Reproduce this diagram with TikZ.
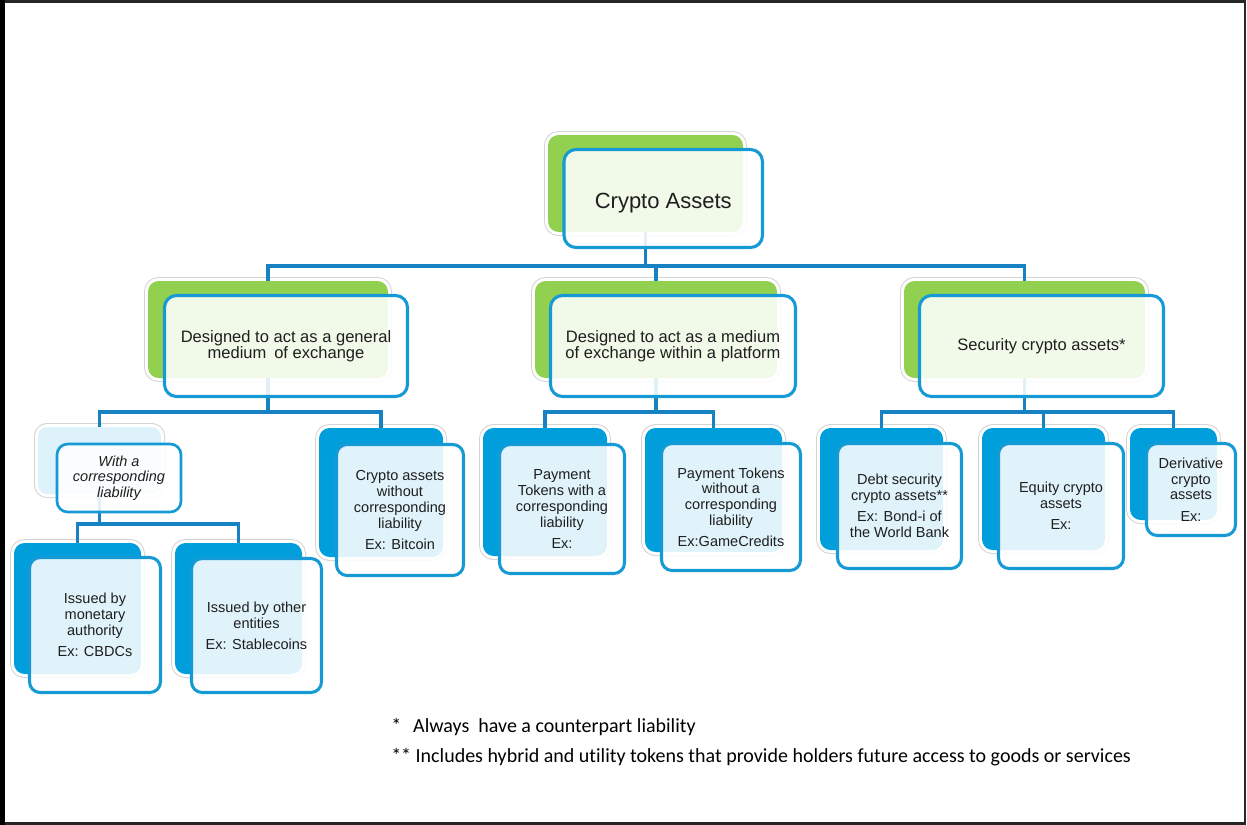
\documentclass[tikz,border=0pt]{standalone}
\usepackage{fontspec}
\setmainfont{Liberation Sans}
\newfontfamily\calib[Ligatures=NoCommon]{Carlito}
\definecolor{greenc}{RGB}{146,208,80}
\definecolor{bluec}{RGB}{0,159,220}
\definecolor{lightbluec}{RGB}{222,242,251}
\definecolor{frontblue}{RGB}{22,154,214}
\definecolor{connblue}{RGB}{22,130,194}
\definecolor{txt}{RGB}{30,30,30}
\newcommand{\mkbox}[6]{%
  \node[#2, minimum width={(#5-#3)*0.75pt}, minimum height={(#6-#4)*0.75pt}] (#1) at ({(#3+#5)/2},{(#4+#6)/2}) {};}
\newcommand{\mkfront}[7]{%
  \node[#2, minimum width={(#5-#3)*0.75pt}, minimum height={(#6-#4)*0.75pt}] (#1) at ({(#3+#5)/2},{(#4+#6)/2}) {#7};}
\begin{document}
\begin{tikzpicture}[x=0.75pt,y=-0.75pt,
  backbase/.style={rectangle, inner sep=0pt, outer sep=0pt,
    preaction={draw=black!17, line width=6pt},
    preaction={draw=white, line width=4.5pt}},
  backg/.style={backbase, rounded corners=8pt, fill=greenc},
  backb/.style={backbase, rounded corners=8pt, fill=bluec},
  backl/.style={backbase, rounded corners=7pt, fill=lightbluec},
  frontbase/.style={rectangle, draw=frontblue, line width=2.3pt, fill=white,
    fill opacity=0.88, text opacity=1, inner sep=1pt, outer sep=0pt,
    align=center, text=txt},
  frontbig/.style={frontbase, rounded corners=9pt},
  frontsmall/.style={frontbase, rounded corners=8pt,
    font=\fontsize{10.9}{11.8}\selectfont},
  conn/.style={draw=connblue, line width=2.6pt},
  foot/.style={anchor=base west, inner sep=0pt, font=\calib\fontsize{15}{16}\selectfont, text=black}
]
\useasboundingbox (0,0) rectangle (1247,825);
\fill[white] (0,0) rectangle (1247,825);
% frame
\draw[line width=2pt, black!85] (1.5,1.5) rectangle (1245,823.5);
\fill[black] (0,0) rectangle (5,825);

% back boxes
\mkbox{rootb}{backg}{548}{135}{743}{232}
\mkbox{aback}{backg}{148}{281}{388}{378}
\mkbox{bback}{backg}{535}{281}{777}{378}
\mkbox{cback}{backg}{904}{281}{1145}{378}
\mkbox{awback}{backl}{38}{427}{161}{494}
\mkbox{aoback}{backb}{319}{428}{443}{557}
\mkbox{mback}{backb}{14}{543}{141}{674}
\mkbox{eback}{backb}{175}{543}{302}{674}
\mkbox{bwback}{backb}{483}{428}{607}{556}
\mkbox{boback}{backb}{645}{428}{782}{552}
\mkbox{dback}{backb}{820}{428}{943}{550}
\mkbox{qback}{backb}{982}{428}{1105}{550}
\mkbox{vback}{backb}{1130}{428}{1217}{520}

% bus coordinates
\coordinate (bus0) at (0,266);
\coordinate (bus1) at (0,412);
\coordinate (bus2) at (0,524);

% connectors
\draw[conn] (rootb.south) |- (bus0 -| aback.north) -- (aback.north);
\draw[conn] (rootb.south) |- (bus0 -| bback.north) -- (bback.north);
\draw[conn] (rootb.south) |- (bus0 -| cback.north) -- (cback.north);
\draw[conn] (aback.south) |- (bus1 -| awback.north) -- (awback.north);
\draw[conn] (aback.south) |- (bus1 -| aoback.north) -- (aoback.north);
\draw[conn] (bback.south) |- (bus1 -| bwback.north) -- (bwback.north);
\draw[conn] (bback.south) |- (bus1 -| boback.north) -- (boback.north);
\draw[conn] (cback.south) |- (bus1 -| dback.north) -- (dback.north);
\draw[conn] (cback.south) |- (bus1 -| qback.north) -- (qback.north);
\draw[conn] (cback.south) |- (bus1 -| vback.north) -- (vback.north);
\draw[conn] (awback.south) |- (bus2 -| mback.north) -- (mback.north);
\draw[conn] (awback.south) |- (bus2 -| eback.north) -- (eback.north);

% front boxes
\mkfront{root}{frontbig, font=\fontsize{16.5}{18}\selectfont}{564}{149.5}{762.5}{247.5}{\rule{0pt}{18pt}Crypto Assets}
\mkfront{a}{frontbig, font=\fontsize{12.4}{12.4}\selectfont}{164.5}{295.5}{407.5}{396.5}{Designed to act as a general\\medium\hspace{2.5pt} of exchange}
\mkfront{b}{frontbig, font=\fontsize{12.4}{12.4}\selectfont}{550.5}{295.5}{795.5}{396.5}{Designed to act as a medium\\of exchange within a platform}
\mkfront{c}{frontbig, font=\fontsize{12.4}{12.4}\selectfont}{919.5}{295.5}{1163.5}{396.5}{Security crypto assets*}
\mkfront{aw}{frontsmall, line width=2pt, font=\fontsize{10.9}{11.8}\selectfont\itshape}{57}{444}{181}{512}{With a\\corresponding\\liability}
\mkfront{ao}{frontsmall}{336.5}{444.5}{463.5}{575.5}{Crypto assets\\without\\corresponding\\liability\\[4pt]Ex: Bitcoin}
\mkfront{m}{frontsmall}{29.5}{557.5}{160.5}{692.5}{Issued by\\monetary\\authority\\[4pt]Ex: CBDCs}
\mkfront{e}{frontsmall}{191.5}{558.5}{321.5}{692.5}{Issued by other\\entities\\[4pt]Ex: Stablecoins}
\mkfront{bw}{frontsmall}{499.5}{444.5}{624.5}{573.5}{Payment\\Tokens with a\\corresponding\\liability\\[4pt]Ex:}
\mkfront{bo}{frontsmall}{661.5}{443.5}{800.5}{570.5}{Payment Tokens\\without a\\corresponding\\liability\\[4pt]Ex:GameCredits}
\mkfront{d}{frontsmall}{837.5}{443.5}{961.5}{568.5}{Debt security\\crypto assets**\\[4pt]Ex: Bond-i of\\the World Bank}
\mkfront{q}{frontsmall}{998.5}{443.5}{1123.5}{568.5}{Equity crypto\\assets\\[4pt]Ex:}
\mkfront{v}{frontsmall}{1146.5}{443.5}{1235.5}{535.5}{Derivative\\crypto\\assets\\[4pt]Ex:}

% footnotes
\node[foot] (fn1) at (391,732) {*\hspace{9pt}Always\ \ have a counterpart liability};
\node[foot] (fn2) at (391,762) {** Includes hybrid and utility tokens that provide holders future access to goods or services};
\end{tikzpicture}
\end{document}
